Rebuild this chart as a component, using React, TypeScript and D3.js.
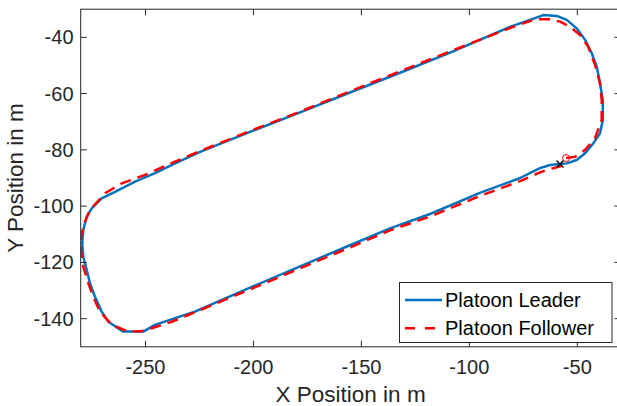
import React from "react";
import * as d3 from "d3";

const leaderX = [-58.0, -54.9, -50.3, -46.4, -42.6, -39.5, -38.2, -38.2, -39.5, -41.0, -43.3, -46.4, -50.3, -54.9, -59.5, -65.7, -71.9, -81.2, -108.9, -132.1, -155.3, -178.4, -201.6, -224.7, -236.3, -245.6, -254.8, -264.1, -270.3, -274.9, -277.2, -278.8, -279.3, -278.8, -277.2, -275.7, -273.4, -270.3, -267.2, -260.3, -251.0, -245.6, -236.3, -227.1, -201.6, -178.4, -155.3, -136.7, -118.2, -95.1, -76.5, -67.3, -62.6, -58.0];
const leaderY = [-85.0, -84.8, -83.6, -81.2, -77.7, -74.1, -69.4, -62.3, -56.3, -50.4, -45.7, -40.9, -36.8, -33.8, -32.4, -32.1, -33.8, -36.3, -45.4, -52.6, -59.6, -66.7, -73.6, -80.7, -84.8, -88.3, -91.3, -94.9, -97.2, -100.8, -103.7, -108.5, -113.2, -118.0, -122.7, -127.4, -132.2, -137.5, -141.1, -144.6, -144.6, -142.2, -139.8, -137.5, -129.0, -121.4, -113.9, -107.9, -102.8, -95.3, -90.0, -86.5, -85.4, -85.0];

const followerX = [-55.2, -51.1, -46.4, -41.8, -38.7, -38.7, -39.5, -41.8, -45.0, -48.7, -53.4, -58.0, -62.6, -67.3, -71.9, -81.2, -108.9, -132.1, -155.3, -178.4, -201.6, -224.7, -236.3, -250.2, -261.0, -268.7, -275.7, -278.0, -279.9, -279.9, -278.8, -276.5, -274.2, -271.1, -265.6, -258.0, -251.7, -247.1, -237.9, -230.2, -201.6, -178.4, -155.3, -136.7, -118.2, -95.1, -76.5, -67.3, -61.7, -57.1];
const followerY = [-82.9, -82.5, -80.0, -75.8, -69.4, -62.3, -56.2, -49.8, -43.3, -39.2, -36.2, -34.4, -33.6, -33.6, -34.2, -36.7, -45.0, -52.1, -59.2, -66.4, -73.3, -80.4, -84.2, -88.9, -91.9, -95.4, -101.4, -105.5, -110.8, -115.6, -121.5, -127.4, -132.2, -137.5, -142.2, -144.6, -144.4, -143.4, -141.1, -138.7, -129.6, -122.1, -114.7, -108.6, -103.7, -96.4, -91.1, -88.0, -86.6, -85.7];

const xTicks = [-250, -200, -150, -100, -50];
const yTicks = [-140, -120, -100, -80, -60, -40];
const xDomain = [-280, -30];
const yDomain = [-150, -30];
const seriesNames = ["Platoon Leader", "Platoon Follower"];
const xTitle = "X Position in m";
const yTitle = "Y Position in m";

const W = 617;
const H = 406;
const L = 80.7;
const R = 620.5;
const T = 9.2;
const B = 346.8;
const AX = "#262626";
const FONT = "'Liberation Sans', Arial, Helvetica, sans-serif";
const BLUE = "#0072BD";
const RED = "#FF0000";

export default function App() {
  const x = d3.scaleLinear().domain(xDomain).range([L, R]);
  const y = d3.scaleLinear().domain(yDomain).range([B, T]);
  const line = d3
    .line<[number, number]>()
    .x((d) => x(d[0]))
    .y((d) => y(d[1]));
  const leader: [number, number][] = leaderX.map((v, i) => [v, leaderY[i]]);
  const follower: [number, number][] = followerX.map((v, i) => [v, followerY[i]]);
  const tl = 6;
  const sx = x(leaderX[0]);
  const sy = y(leaderY[0]);
  const fx = x(followerX[0]);
  const fy = y(followerY[0]);
  const lgX = 399.5;
  const lgY = 282.5;
  return (
    <svg
      width={W}
      height={H}
      style={{ position: "fixed", left: 0, top: 0, background: "#fff" }}
      fontFamily={FONT}
    >
      <rect x={0} y={0} width={W} height={H} fill="#fff" />
      <defs>
        <clipPath id="plotclip">
          <rect x={L} y={T} width={R - L} height={B - T} />
        </clipPath>
      </defs>
      <g clipPath="url(#plotclip)">
        <path d={line(leader) || ""} fill="none" stroke={BLUE} strokeWidth={2.5} strokeLinejoin="round" />
        <path d={line(follower) || ""} fill="none" stroke={RED} strokeWidth={2.5} strokeDasharray="11,7" />
        <circle cx={fx} cy={fy} r={3.5} fill="none" stroke={RED} strokeWidth={1} />
        <path
          d={`M${sx - 3.5},${sy - 3.5}L${sx + 3.5},${sy + 3.5}M${sx - 3.5},${sy + 3.5}L${sx + 3.5},${sy - 3.5}`}
          stroke="#000"
          strokeWidth={1.3}
        />
      </g>
      <rect x={L} y={T} width={R - L} height={B - T} fill="none" stroke={AX} strokeWidth={1} />
      {xTicks.map((t) => (
        <g key={"x" + t}>
          <line x1={x(t)} x2={x(t)} y1={B} y2={B - tl} stroke={AX} strokeWidth={1} />
          <line x1={x(t)} x2={x(t)} y1={T} y2={T + tl} stroke={AX} strokeWidth={1} />
          <text x={x(t)} y={374} textAnchor="middle" fontSize={20} fill={AX}>
            {t}
          </text>
        </g>
      ))}
      {yTicks.map((t) => (
        <g key={"y" + t}>
          <line x1={L} x2={L + tl} y1={y(t)} y2={y(t)} stroke={AX} strokeWidth={1} />
          <line x1={R} x2={R - tl} y1={y(t)} y2={y(t)} stroke={AX} strokeWidth={1} />
          <text x={73.5} y={y(t)} textAnchor="end" dominantBaseline="central" fontSize={20} fill={AX}>
            {t}
          </text>
        </g>
      ))}
      <text x={(L + R) / 2} y={401.5} textAnchor="middle" fontSize={22.5} fill={AX}>
        {xTitle}
      </text>
      <text
        transform={`translate(23,${(T + B) / 2}) rotate(-90)`}
        textAnchor="middle"
        fontSize={22.5}
        fill={AX}
      >
        {yTitle}
      </text>
      <rect x={lgX} y={lgY} width={212.5} height={60} fill="#fff" stroke={AX} strokeWidth={1} />
      <line x1={405} x2={442} y1={300} y2={300} stroke={BLUE} strokeWidth={2.5} />
      <line x1={405} x2={442} y1={328.3} y2={328.3} stroke={RED} strokeWidth={2.5} strokeDasharray="10,10" />
      <text x={445} y={300} dominantBaseline="central" fontSize={20} fill="#000">
        {seriesNames[0]}
      </text>
      <text x={445} y={328.3} dominantBaseline="central" fontSize={20} fill="#000">
        {seriesNames[1]}
      </text>
    </svg>
  );
}
